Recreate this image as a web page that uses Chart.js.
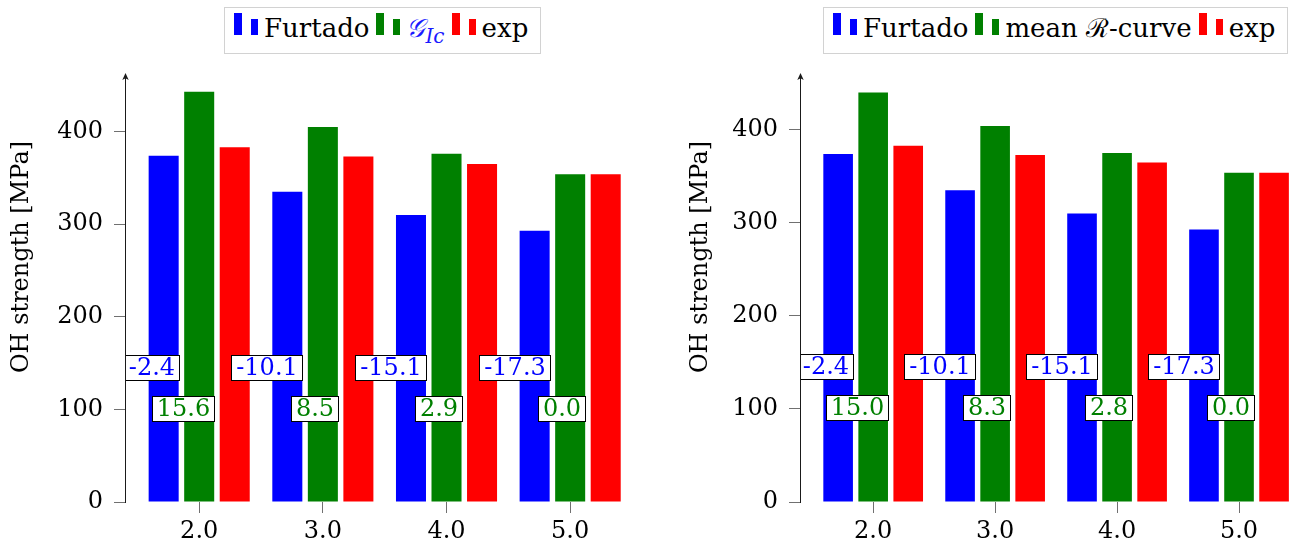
<!DOCTYPE html>
<html>
<head>
<meta charset="utf-8">
<title>OH strength</title>
<script src="https://cdn.jsdelivr.net/npm/chart.js@4.4.1/dist/chart.umd.min.js"></script>
<style>
  html, body { margin: 0; padding: 0; background: #fff; }
  body { width: 1300px; height: 550px; position: relative; overflow: hidden; font-family: "DejaVu Serif", serif; }
  .panel { position: absolute; top: 0; width: 650px; height: 550px; }
  #panelA { left: 0; }
  #panelB { left: 650px; }
  .legend {
    position: absolute; top: 7px; height: 47px; box-sizing: border-box;
    border: 1px solid #d2d2d2; background: #fff;
    padding: 0 12px 0 9px; font-size: 26px; line-height: 41px; white-space: nowrap; color: #000;
  }
  #panelA .legend { left: 224px; }
  #panelB .legend { left: 173px; }
  .icon { display: inline-flex; align-items: flex-end; position: relative; top: -2px; margin-right: 6px; }
  .icon span { display: inline-block; }
  .icon span:first-child { width: 8px; height: 22px; margin-right: 9px; }
  .icon span:last-child { width: 7px; height: 16px; }
  .item { margin-right: 7px; }
  .gic { color: #1a1aff; font-style: italic; }
  .gic sub { font-size: 20px; vertical-align: -6px; line-height: 0; }
  canvas { position: absolute; left: 0; top: 0; }
</style>
</head>
<body>

<div class="panel" id="panelA">
  <canvas id="chartA" width="650" height="550"></canvas>
  <div class="legend" id="legendA"></div>
</div>
<div class="panel" id="panelB">
  <canvas id="chartB" width="650" height="550"></canvas>
  <div class="legend" id="legendB"></div>
</div>

<script>
// Hole width-to-diameter ratios on the horizontal axis
const ratios = [2.0, 3.0, 4.0, 5.0];
const yTicks = [0, 100, 200, 300, 400];

// Open-hole strength [MPa]
const furtado    = [374, 335, 310, 293];
const gIc        = [443, 405, 376, 354];
const meanRCurve = [440, 404, 375, 354];
const experiment = [383, 373, 365, 354];

// Relative error with respect to the experiments [%]
const furtadoErr    = [-2.4, -10.1, -15.1, -17.3];
const gIcErr        = [15.6, 8.5, 2.9, 0.0];
const meanRCurveErr = [15.0, 8.3, 2.8, 0.0];

const BLUE = '#0000ff', GREEN = '#008000', RED = '#ff0000';
const FONT = '"DejaVu Serif", serif';

function points(values) {
  return values.map((v, i) => ({ x: ratios[i], y: v }));
}

// Boxed error labels, right edge flush with the bar they refer to
function errorLabels(rows) {
  return {
    id: 'errorLabels',
    afterDatasetsDraw(chart) {
      const { ctx, chartArea } = chart;
      const yScale = chart.scales.y;
      ctx.save();
      ctx.beginPath();
      ctx.rect(chartArea.left + 1, 0, chart.width, chart.height);
      ctx.clip();
      ctx.font = '24px ' + FONT;
      ctx.textAlign = 'center';
      ctx.textBaseline = 'middle';
      rows.forEach(row => {
        const meta = chart.getDatasetMeta(row.dataset);
        const yc = Math.round(yScale.getPixelForValue(row.at));
        meta.data.forEach((bar, i) => {
          const txt = row.values[i].toFixed(1);
          const w = Math.round(ctx.measureText(txt).width + 9);
          const right = Math.round(bar.x + bar.width / 2);
          const left = right - w;
          const top = yc - 12;
          ctx.fillStyle = '#fff';
          ctx.fillRect(left, top, w, 25);
          ctx.strokeStyle = '#000';
          ctx.lineWidth = 1;
          ctx.strokeRect(left + 0.5, top + 0.5, w, 25);
          ctx.fillStyle = row.color;
          ctx.fillText(txt, left + w / 2 + 0.5, top + 14);
        });
      });
      ctx.restore();
    }
  };
}

// Axis arrow head and rotated axis title
function axisDecor(title, titleX, titleY, tipY) {
  return {
    id: 'axisDecor',
    afterDraw(chart) {
      const { ctx, chartArea } = chart;
      const x = chartArea.left + 0.5;
      ctx.save();
      ctx.strokeStyle = '#1a1a1a';
      ctx.lineWidth = 1;
      ctx.beginPath();
      ctx.moveTo(x, chartArea.top + 1);
      ctx.lineTo(x, tipY + 3);
      ctx.stroke();
      ctx.fillStyle = '#1a1a1a';
      ctx.beginPath();
      ctx.moveTo(x, tipY);
      ctx.lineTo(x - 3.2, tipY + 7);
      ctx.lineTo(x, tipY + 5.2);
      ctx.lineTo(x + 3.2, tipY + 7);
      ctx.closePath();
      ctx.fill();

      ctx.translate(titleX, titleY);
      ctx.rotate(-Math.PI / 2);
      ctx.font = '24px ' + FONT;
      ctx.fillStyle = '#000';
      ctx.textAlign = 'center';
      ctx.textBaseline = 'middle';
      ctx.fillText(title, 0, 0);
      ctx.restore();
    }
  };
}

function makeChart(canvasId, cfg) {
  const datasets = [
    { label: 'Furtado', data: points(furtado), backgroundColor: BLUE },
    { label: cfg.secondLabel, data: points(cfg.second), backgroundColor: GREEN },
    { label: 'exp', data: points(experiment), backgroundColor: RED }
  ];
  return new Chart(document.getElementById(canvasId), {
    type: 'bar',
    data: { datasets },
    options: {
      responsive: false,
      animation: false,
      devicePixelRatio: 1,
      layout: { padding: { top: cfg.top, right: cfg.padRight, left: 0, bottom: 0 } },
      datasets: { bar: { categoryPercentage: 0.862, barPercentage: 0.845, borderWidth: 0 } },
      plugins: { legend: { display: false }, tooltip: { enabled: false }, title: { display: false } },
      scales: {
        x: {
          type: 'linear',
          offset: false,
          min: 1.4,
          max: 5.5,
          afterBuildTicks: s => { s.ticks = ratios.map(v => ({ value: v })); },
          afterFit: s => { s.height = 48; },
          border: { display: false },
          grid: { offset: false, drawOnChartArea: false, drawTicks: true, tickLength: 11, color: '#707070' },
          ticks: { color: '#000', font: { family: FONT, size: 24 }, padding: 4, callback: v => v.toFixed(1) }
        },
        y: {
          min: 0,
          max: 460,
          afterBuildTicks: s => { s.ticks = yTicks.map(v => ({ value: v })); },
          afterFit: s => { s.width = cfg.axisWidth; },
          border: { display: true, color: '#1a1a1a', width: 1 },
          grid: { drawOnChartArea: false, drawTicks: true, tickLength: 11, color: '#707070' },
          ticks: { color: '#000', font: { family: FONT, size: 24 }, padding: 11 }
        }
      }
    },
    plugins: [
      errorLabels([
        { dataset: 0, values: furtadoErr, at: 146, color: BLUE },
        { dataset: 1, values: cfg.secondErr, at: 102, color: GREEN }
      ]),
      axisDecor('OH strength [MPa]', cfg.titleX, 257, 73)
    ]
  });
}

function icon(color) {
  return '<span class="icon"><span style="background:' + color + '"></span><span style="background:' + color + '"></span></span>';
}

document.getElementById('legendA').innerHTML =
  icon(BLUE) + '<span class="item">Furtado</span>' +
  icon(GREEN) + '<span class="item gic">𝒢<sub>Ic</sub></span>' +
  icon(RED) + '<span>exp</span>';

document.getElementById('legendB').innerHTML =
  icon(BLUE) + '<span class="item">Furtado</span>' +
  icon(GREEN) + '<span class="item">mean ℛ-curve</span>' +
  icon(RED) + '<span>exp</span>';

makeChart('chartA', {
  secondLabel: '𝒢Ic', second: gIc, secondErr: gIcErr,
  top: 76, padRight: 18, axisWidth: 125, titleX: 22
});
makeChart('chartB', {
  secondLabel: 'mean ℛ-curve', second: meanRCurve, secondErr: meanRCurveErr,
  top: 74, padRight: 0, axisWidth: 150, titleX: 51
});
</script>
</body>
</html>
